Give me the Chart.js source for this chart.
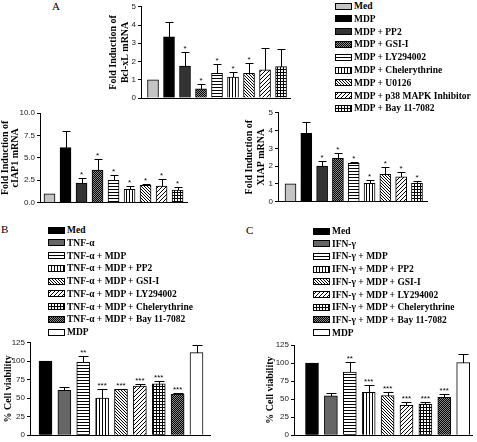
<!DOCTYPE html>
<html><head><meta charset="utf-8">
<script src="https://cdn.jsdelivr.net/npm/chart.js@4.4.0/dist/chart.umd.min.js"></script>
<style>
html,body{margin:0;padding:0;}
body{width:477px;height:442px;background:#fff;position:relative;overflow:hidden;font-family:"Liberation Serif",serif;}
canvas.c{position:absolute;}
.lbl{position:absolute;font:11px "Liberation Serif",serif;color:#000;line-height:12px;}
.row{position:absolute;white-space:nowrap;display:flex;align-items:center;height:12px;font:bold 9.5px "Liberation Serif",serif;color:#000;}
.row canvas{margin-right:2px;}
</style></head><body>
<div class="lbl" style="left:52px;top:0px;">A</div>
<div class="lbl" style="left:1px;top:223px;">B</div>
<div class="lbl" style="left:246px;top:224px;">C</div>
<canvas id="a1" class="c"></canvas>
<canvas id="a2" class="c"></canvas>
<canvas id="a3" class="c"></canvas>
<canvas id="b1" class="c"></canvas>
<canvas id="c1" class="c"></canvas>
<div id="legA"></div><div id="legB"></div><div id="legC"></div>
<script>
// ---------- DATA ----------
const groupsA = ['Med','MDP','MDP + PP2','MDP + GSI-I','MDP + LY294002','MDP + Chelerythrine','MDP + U0126','MDP + p38 MAPK Inhibitor','MDP + Bay 11-7082'];
const fillsA = ['light','black','dark','checker','hlines','vlines','diagB','diagF','grid'];
const bclxlMean = [1.0, 3.35, 1.75, 0.5, 1.35, 1.15, 1.35, 1.55, 1.72];
const bclxlErr  = [0, 0.8, 0.75, 0.28, 0.5, 0.3, 0.55, 1.2, 0.95];
const bclxlSig  = ['', '', '*', '*', '*', '*', '*', '', ''];
const bclxlTicks = [0, 1, 2, 3, 4, 5];
const ciap1Mean = [1.0, 6.15, 2.2, 3.65, 2.5, 1.5, 1.93, 1.85, 1.4];
const ciap1Err  = [0, 1.85, 0.6, 1.2, 0.6, 0.4, 0.17, 0.75, 0.3];
const ciap1Sig  = ['', '', '*', '*', '*', '*', '*', '*', '*'];
const ciap1Ticks = ['0.0', '2.5', '5.0', '7.5', '10.0'];
const xiapMean = [1.0, 3.84, 2.0, 2.44, 2.15, 1.03, 1.54, 1.4, 1.03];
const xiapErr  = [0, 0.66, 0.29, 0.31, 0.1, 0.19, 0.39, 0.29, 0.13];
const xiapSig  = ['', '', '*', '*', '*', '*', '*', '*', '*'];
const xiapTicks = [0, 1, 2, 3, 4, 5];
const groupsB = ['Med','TNF-α','TNF-α + MDP','TNF-α + MDP + PP2','TNF-α + MDP + GSI-I','TNF-α + MDP + LY294002','TNF-α + MDP + Chelerythrine','TNF-α + MDP + Bay 11-7082','MDP'];
const groupsC = ['Med','IFN-γ','IFN-γ + MDP','IFN-γ + MDP + PP2','IFN-γ + MDP + GSI-I','IFN-γ + MDP + LY294002','IFN-γ + MDP + Chelerythrine','IFN-γ + MDP + Bay 11-7082','MDP'];
const fillsBC = ['black','gray','hlines','vlines','diagB','diagF','grid','checker','white'];
const tnfMean = [100, 60.5, 98.5, 50, 62, 66.5, 69.5, 55.5, 111.5];
const tnfErr  = [0, 5, 8.5, 13, 1, 3, 3.5, 2, 11];
const tnfSig  = ['', '', '**', '***', '***', '***', '***', '***', ''];
const ifnMean = [100, 54.5, 87.5, 59.5, 55, 41.5, 43, 52.5, 100.5];
const ifnErr  = [0, 4, 14, 10, 5.5, 4, 3.5, 4, 12];
const ifnSig  = ['', '', '**', '***', '***', '***', '***', '***', ''];
const viabTicks = [0, 25, 50, 75, 100, 125];

// ---------- PATTERNS ----------
const pctx = document.createElement('canvas').getContext('2d');
function tile(n, fn, fg, bg){
  const c = document.createElement('canvas'); c.width = c.height = n;
  const g = c.getContext('2d'); g.fillStyle = bg || '#fff'; g.fillRect(0,0,n,n);
  g.fillStyle = fg || '#000';
  for (let y=0;y<n;y++) for (let x=0;x<n;x++) if (fn(x,y)) g.fillRect(x,y,1,1);
  return pctx.createPattern(c,'repeat');
}
function fillFor(k){
  switch(k){
    case 'light': return '#c4c4c4';
    case 'black': return '#000';
    case 'dark': return '#333';
    case 'gray': return '#666';
    case 'white': return '#fff';
    case 'hlines': return tile(3,(x,y)=>y===0);
    case 'vlines': return tile(3,(x,y)=>x===0);
    case 'diagB': return tile(3,(x,y)=>x===y);
    case 'diagF': return tile(4,(x,y)=>x+y===3);
    case 'grid': return tile(3,(x,y)=>x===0||y===0);
    case 'checker': return tile(2,(x,y)=>(x+y)%2===0,'#000','#8a8a8a');
  }
}

// ---------- ERROR BARS + SIGNIFICANCE ----------
const errPlugin = {
  id: 'errbars',
  afterDatasetsDraw(chart){
    const ctx = chart.ctx, ys = chart.scales.y, ds = chart.data.datasets[0];
    const meta = chart.getDatasetMeta(0);
    ctx.save();
    ctx.strokeStyle = '#000'; ctx.fillStyle = '#000'; ctx.lineWidth = 1;
    meta.data.forEach((bar, i) => {
      const v = ds.data[i].y, e = ds.err[i];
      const x = Math.round(bar.x) + 0.5;
      const yTop = Math.round(ys.getPixelForValue(v + e)) + 0.5;
      if (e > 0) {
        const cap = Math.max(3, Math.round(bar.width * 0.35));
        ctx.beginPath();
        ctx.moveTo(x, Math.round(bar.y)); ctx.lineTo(x, yTop);
        ctx.moveTo(x - cap, yTop); ctx.lineTo(x + cap, yTop);
        ctx.stroke();
      }
      if (ds.sig[i]) {
        ctx.font = '8px "Liberation Sans", Arial';
        ctx.textAlign = 'center'; ctx.textBaseline = 'alphabetic';
        ctx.fillText(ds.sig[i], bar.x, yTop - 2);
      }
    });
    ctx.restore();
  }
};

function makeChart(id, o){
  const cv = document.getElementById(id);
  cv.width = o.w; cv.height = o.h;
  cv.style.left = o.cx + 'px'; cv.style.top = o.cy + 'px';
  const data = o.mean.map((v,i)=>({x:i, y:v}));
  return new Chart(cv, {
    type: 'bar',
    data: { datasets: [{
      data, err: o.err, sig: o.sig,
      backgroundColor: o.fills.map(fillFor),
      borderColor: '#000', borderWidth: 1, borderSkipped: 'bottom',
      barThickness: o.bw
    }]},
    options: {
      responsive: false, animation: false, devicePixelRatio: 1,
      layout: { padding: { left: 0, top: o.top - o.cy, right: o.cx + o.w - o.right, bottom: o.cy + o.h - o.bottom } },
      plugins: { legend: { display: false }, tooltip: { enabled: false } },
      scales: {
        x: {
          type: 'linear', min: o.xmin, max: o.xmax, offset: false,
          ticks: { display: false }, grid: { display: false },
          border: { display: true, color: '#000', width: 1 },
          afterFit: s => { s.height = 0; }
        },
        y: {
          min: 0, max: o.ymax,
          afterBuildTicks: s => { s.ticks = o.ticks.map(t => ({ value: +t })); },
          ticks: { font: { family: 'Liberation Sans', size: 8 }, color: '#222', padding: 2,
                   callback: (v, i) => String(o.ticks[i]) },
          grid: { drawOnChartArea: false, drawTicks: true, tickLength: 3, color: '#000' },
          border: { display: true, color: '#000', width: 1 },
          title: { display: true, text: o.title, color: '#000',
                   font: { family: 'Liberation Serif', size: 10, weight: 'bold', lineHeight: o.lh || 1.2 },
                   padding: { top: o.tpad, bottom: 0 } },
          afterFit: s => { s.width = o.axis - o.cx; }
        }
      }
    },
    plugins: [errPlugin]
  });
}

makeChart('a1', { cx:100, cy:0, w:195, h:105, axis:141, top:5, bottom:98, right:290,
  xmin:-0.75, xmax:8.56, bw:11, ymax:5, ticks:bclxlTicks,
  mean:bclxlMean, err:bclxlErr, sig:bclxlSig, fills:fillsA,
  title:['Fold Induction of','Bcl-xL mRNA'], lh:1.25, tpad:7 });
makeChart('a2', { cx:0, cy:105, w:192, h:105, axis:40, top:113, bottom:202.7, right:187,
  xmin:-0.594, xmax:8.59, bw:11, ymax:10, ticks:ciap1Ticks,
  mean:ciap1Mean, err:ciap1Err, sig:ciap1Sig, fills:fillsA,
  title:['Fold Induction of','cIAP1 mRNA'], lh:1.05, tpad:0 });
makeChart('a3', { cx:240, cy:105, w:192, h:105, axis:278, top:112.7, bottom:201.7, right:427,
  xmin:-0.79, xmax:8.634, bw:11, ymax:5, ticks:xiapTicks,
  mean:xiapMean, err:xiapErr, sig:xiapSig, fills:fillsA,
  title:['Fold Induction of','XIAP mRNA'], lh:1.25, tpad:3 });
makeChart('b1', { cx:0, cy:335, w:215, h:107, axis:30, top:342.7, bottom:436.7, right:210,
  xmin:-0.821, xmax:8.715, bw:13, ymax:125, ticks:viabTicks,
  mean:tnfMean, err:tnfErr, sig:tnfSig, fills:fillsBC,
  title:'% Cell viability', tpad:2 });
makeChart('c1', { cx:240, cy:335, w:237, h:107, axis:294, top:345, bottom:437.5, right:472,
  xmin:-0.952, xmax:8.466, bw:13, ymax:125, ticks:viabTicks,
  mean:ifnMean, err:ifnErr, sig:ifnSig, fills:fillsBC,
  title:'% Cell viability', tpad:24 });

// ---------- LEGENDS ----------
function legend(id, names, fills, sx, y0, dy){
  const host = document.getElementById(id);
  names.forEach((n, i) => {
    const row = document.createElement('div');
    row.className = 'row';
    row.style.left = sx + 'px';
    row.style.top = (y0 + i * dy - 6) + 'px';
    const sw = document.createElement('canvas');
    sw.width = 17; sw.height = 7;
    const g = sw.getContext('2d');
    g.fillStyle = fillFor(fills[i]); g.fillRect(0,0,17,7);
    g.strokeStyle = '#000'; g.lineWidth = 1; g.strokeRect(0.5,0.5,16,6);
    row.appendChild(sw);
    const t = document.createElement('span'); t.textContent = n;
    row.appendChild(t);
    host.appendChild(row);
  });
}
legend('legA', groupsA, fillsA, 335, 6, 12.8);
legend('legB', groupsB, fillsBC, 48, 230, 12.75);
legend('legC', groupsC, fillsBC, 313, 231, 12.7);
</script>
</body></html>
